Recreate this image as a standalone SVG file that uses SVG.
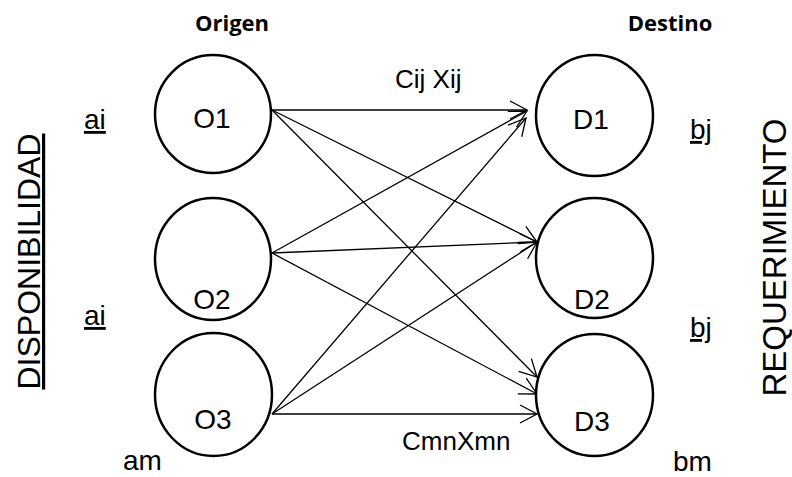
<svg xmlns="http://www.w3.org/2000/svg" width="792" height="477" viewBox="0 0 792 477">
  <style>
    .node { fill: #ffffff; stroke: #000000; stroke-width: 2.5; }
    .lbl { font-family: "Liberation Sans", Arial, sans-serif; fill: #000000; }
    .name { font-size: 28px; text-anchor: middle; }
    .cost { font-size: 26px; }
    .side { font-size: 28px; }
    .ul { text-decoration: underline; }
    .head { font-family: "Open Sans", "Liberation Sans", sans-serif; font-weight: bold; font-size: 22px; text-anchor: middle; }
    .big { font-size: 32px; text-anchor: middle; }
    .edge { stroke: #000000; stroke-width: 1.3; fill: none; marker-end: url(#arrow); }
  </style>
  <defs>
    <marker id="arrow" markerUnits="userSpaceOnUse" markerWidth="24" markerHeight="24" viewBox="-20 -12 22 24" refX="0" refY="0" orient="auto">
      <path d="M-17,-9 L0,0 L-17,9" fill="none" stroke="#000000" stroke-width="1.3"/>
    </marker>
  </defs>
  <rect width="792" height="477" fill="#ffffff"/>

  <!-- column headings -->
  <text class="head" x="232" y="31">Origen</text>
  <text class="head" x="670" y="31">Destino</text>

  <!-- side captions -->
  <text class="lbl big ul" transform="translate(40,261.5) rotate(-90)">DISPONIBILIDAD</text>
  <text class="lbl big" style="font-size:33px" transform="translate(786,257.5) rotate(-90)">REQUERIMIENTO</text>

  <!-- supply and demand labels -->
  <text class="lbl side ul" x="84" y="129">ai</text>
  <text class="lbl side ul" x="84" y="325">ai</text>
  <text class="lbl side" x="123" y="470">am</text>
  <text class="lbl side ul" x="690" y="139">bj</text>
  <text class="lbl side ul" x="690" y="337">bj</text>
  <text class="lbl side" x="673" y="471">bm</text>

  <!-- transport routes -->
  <g id="connectors">
    <line class="edge" x1="272" y1="110" x2="527" y2="110"/>
    <line class="edge" x1="272" y1="110" x2="537" y2="242"/>
    <line class="edge" x1="272" y1="110" x2="537" y2="377"/>
    <line class="edge" x1="272" y1="253" x2="527" y2="111"/>
    <line class="edge" x1="272" y1="253" x2="537" y2="242"/>
    <line class="edge" x1="272" y1="253" x2="537" y2="394"/>
    <line class="edge" x1="272" y1="414" x2="526" y2="118"/>
    <line class="edge" x1="272" y1="414" x2="537" y2="242"/>
    <line class="edge" x1="272" y1="414" x2="537" y2="414"/>
    <text class="lbl cost" x="395" y="88">Cij Xij</text>
    <text class="lbl cost" x="402" y="450">CmnXmn</text>
  </g>

  <!-- origins -->
  <g id="O1">
    <ellipse class="node" cx="213" cy="114" rx="58" ry="59"/>
    <text class="lbl name" x="212" y="128">O1</text>
  </g>
  <g id="O2">
    <ellipse class="node" cx="213" cy="259" rx="58" ry="61"/>
    <text class="lbl name" x="212" y="309">O2</text>
  </g>
  <g id="O3">
    <ellipse class="node" cx="213.5" cy="394.5" rx="58.5" ry="61.5"/>
    <text class="lbl name" x="213" y="429">O3</text>
  </g>

  <!-- destinations -->
  <g id="D1">
    <ellipse class="node" cx="594.5" cy="115.5" rx="58.5" ry="60.5"/>
    <text class="lbl name" x="591" y="129">D1</text>
  </g>
  <g id="D2">
    <ellipse class="node" cx="594.5" cy="258" rx="58.5" ry="60"/>
    <text class="lbl name" x="592" y="309">D2</text>
  </g>
  <g id="D3">
    <ellipse class="node" cx="594.5" cy="395" rx="58.5" ry="61"/>
    <text class="lbl name" x="592" y="431">D3</text>
  </g>
</svg>
